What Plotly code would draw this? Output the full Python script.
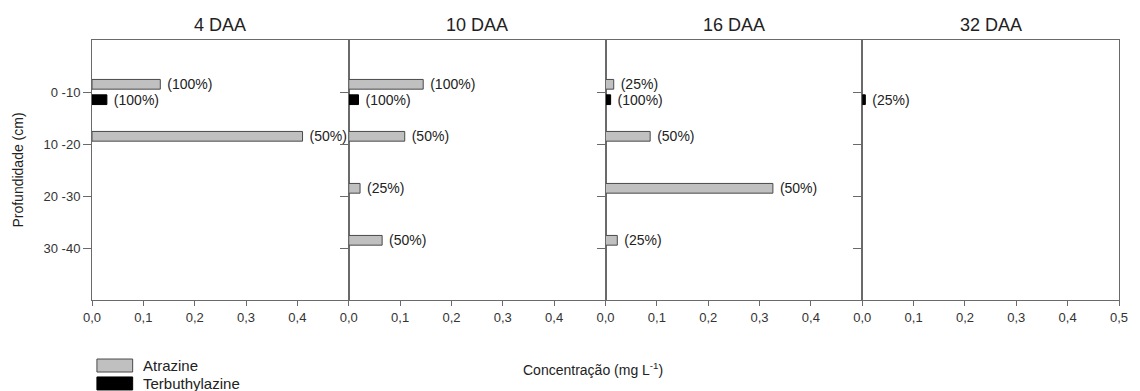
import plotly.graph_objects as go
from plotly.subplots import make_subplots

# Sampling times (days after application) and soil depth layers
periods = ["4 DAA", "10 DAA", "16 DAA", "32 DAA"]
depths = ["0 -10", "10 -20", "20 -30", "30 -40"]

# Concentrations (mg/L) per period, one value per depth layer (None = not detected)
atrazine = [
    [0.133, 0.410, None, None],
    [0.145, 0.109, 0.022, 0.065],
    [0.016, 0.087, 0.326, 0.023],
    [None, None, None, None],
]
terbuthylazine = [
    [0.029, None, None, None],
    [0.019, None, None, None],
    [0.010, None, None, None],
    [0.006, None, None, None],
]

# Detection frequency labels shown next to each bar
atrazine_freq = [
    ["(100%)", "(50%)", None, None],
    ["(100%)", "(50%)", "(25%)", "(50%)"],
    ["(25%)", "(50%)", "(50%)", "(25%)"],
    [None, None, None, None],
]
terbuthylazine_freq = [
    ["(100%)", None, None, None],
    ["(100%)", None, None, None],
    ["(100%)", None, None, None],
    ["(25%)", None, None, None],
]

BAR_W = 0.187
# (name, values, labels, fill, edge, offset of the bar within its depth slot)
series = [
    ("Atrazine", atrazine, atrazine_freq, "#c0c0c0", "#4a4a4a", -0.2415),
    ("Terbuthylazine", terbuthylazine, terbuthylazine_freq, "#000000", "#000000", 0.0545),
]

FONT = "Liberation Sans, Arial, sans-serif"
AXIS_COLOR = "#6a6a6a"
GAP = "\u2009\u200a"  # small gap between bar end and its label

fig = make_subplots(rows=1, cols=4, shared_yaxes=False, horizontal_spacing=0)

for col in range(4):
    for name, values, freq, fill, edge, offset in series:
        # keep only the layers where the compound was detected
        rows = [(d, v, t) for d, v, t in zip(depths, values[col], freq[col]) if v is not None]
        if not rows:
            continue
        fig.add_trace(
            go.Bar(
                name=name,
                x=[v for _, v, _ in rows],
                y=[d for d, _, _ in rows],
                orientation="h",
                width=BAR_W,
                offset=offset,
                marker=dict(color=fill, line=dict(color=edge, width=1)),
                text=[GAP + t for _, _, t in rows],
                textposition="outside",
                textfont=dict(family=FONT, size=14, color="#222222"),
                constraintext="none",
                cliponaxis=False,
                showlegend=False,
                hoverinfo="x+y+name",
            ),
            row=1,
            col=col + 1,
        )

    last = col == 3
    fig.update_xaxes(
        range=[0, 0.5],
        tickvals=[0, 0.1, 0.2, 0.3, 0.4, 0.5] if last else [0, 0.1, 0.2, 0.3, 0.4],
        tickformat=".1f",
        ticks="outside",
        ticklen=5,
        tickcolor=AXIS_COLOR,
        showline=True,
        linecolor=AXIS_COLOR,
        linewidth=1,
        mirror=True,
        showgrid=False,
        zeroline=False,
        tickfont=dict(family=FONT, size=13, color="#333333"),
        row=1,
        col=col + 1,
    )
    fig.update_yaxes(
        type="category",
        categoryorder="array",
        categoryarray=depths,
        range=[4, -1],
        ticks="outside",
        ticklen=8,
        tickcolor=AXIS_COLOR,
        showticklabels=(col == 0),
        showline=True,
        linecolor=AXIS_COLOR,
        linewidth=1,
        mirror=True,
        showgrid=False,
        zeroline=False,
        tickfont=dict(family=FONT, size=13, color="#333333"),
        row=1,
        col=col + 1,
    )

fig.update_yaxes(
    title=dict(text="Profundidade (cm)", font=dict(family=FONT, size=14, color="#222222"), standoff=16),
    row=1,
    col=1,
)

# Panel titles
for col, label in enumerate(periods):
    fig.add_annotation(
        text=label,
        x=(col + 0.5) / 4,
        y=1.058,
        xref="paper",
        yref="paper",
        xanchor="center",
        yanchor="middle",
        showarrow=False,
        font=dict(family=FONT, size=18, color="#222222"),
    )

# Shared x-axis title
fig.add_annotation(
    text="Concentração (mg L<sup>-1</sup>)",
    x=0.488,
    y=-0.265,
    xref="paper",
    yref="paper",
    xanchor="center",
    yanchor="middle",
    showarrow=False,
    font=dict(family=FONT, size=14, color="#222222"),
)

# Legend: swatches with labels under the first panel
for i, (name, _, _, fill, edge, _) in enumerate(series):
    y_top = -0.227 - i * 0.069
    fig.add_shape(
        type="rect",
        xref="paper",
        yref="paper",
        x0=0.0048,
        x1=0.0396,
        y0=y_top - 0.05,
        y1=y_top,
        fillcolor=fill,
        line=dict(color=edge, width=1),
    )
    fig.add_annotation(
        text=name,
        x=0.048,
        y=y_top - 0.025,
        xref="paper",
        yref="paper",
        xanchor="left",
        yanchor="middle",
        showarrow=False,
        font=dict(family=FONT, size=15, color="#222222"),
    )

fig.update_layout(
    width=1140,
    height=391,
    margin=dict(l=92, r=14, t=40, b=91),
    barmode="overlay",
    separators=",.",
    plot_bgcolor="white",
    paper_bgcolor="white",
    showlegend=False,
    font=dict(family=FONT),
)

fig.write_html("out.html")
